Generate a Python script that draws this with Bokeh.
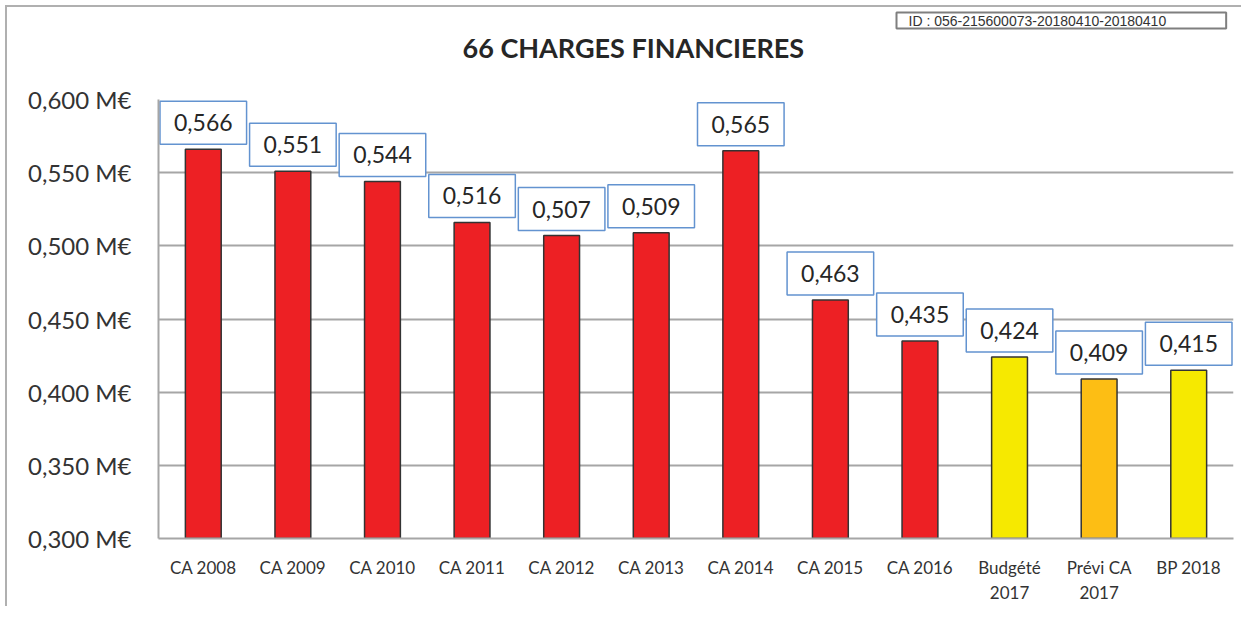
from bokeh.plotting import figure
from bokeh.models import CustomJSTickFormatter, FixedTicker, Title, ColumnDataSource, Range1d
from bokeh.core.properties import value
from bokeh.embed import file_html
from bokeh.resources import INLINE

categories = ["CA 2008", "CA 2009", "CA 2010", "CA 2011", "CA 2012", "CA 2013",
              "CA 2014", "CA 2015", "CA 2016", "Budgété\n2017", "Prévi CA\n2017", "BP 2018"]
values = [0.566, 0.551, 0.544, 0.516, 0.507, 0.509, 0.565, 0.463, 0.435, 0.424, 0.409, 0.415]
colors = ["#ed2024"] * 9 + ["#f6e900", "#fdbe14", "#f6e900"]
y_ticks = [0.30, 0.35, 0.40, 0.45, 0.50, 0.55, 0.60]
title_text = "66 CHARGES FINANCIERES"
id_text = "ID : 056-215600073-20180410-20180410"

labels = [f"{v:.3f}".replace(".", ",") for v in values]
src = ColumnDataSource(dict(cat=categories, val=values, color=colors, label=labels))

p = figure(x_range=categories, y_range=Range1d(0.3, 0.6), width=1236, height=601,
           output_backend="svg", toolbar_location=None,
           min_border_left=151, min_border_top=92, min_border_right=10, min_border_bottom=70)
p.styles = {"margin": "5px 0 0 5px",
            "border-left": "2px solid #b0b0b0", "border-top": "2px solid #b0b0b0"}
p.outline_line_color = None

p.vbar(x="cat", top="val", bottom=0, width=0.4, fill_color="color",
       line_color="#333333", line_width=1.5, source=src)

p.text(x="cat", y="val", text="label", source=src, anchor="bottom_center", y_offset=-5,
       padding=dict(left=14, right=14, top=13, bottom=13), background_fill_color="white",
       border_line_color="#6393d0", border_line_width=1.5, text_font=value("Lato"),
       text_font_size="23px", text_color="#262626", text_align="center",
       text_baseline="bottom")

p.yaxis.ticker = FixedTicker(ticks=y_ticks)
p.yaxis.formatter = CustomJSTickFormatter(code="return tick.toFixed(3).replace('.', ',') + ' M€';")
p.yaxis.major_tick_line_color = None
p.yaxis.minor_tick_line_color = None
p.yaxis.axis_line_color = "#a6a6a6"
p.yaxis.axis_line_width = 2
p.yaxis.major_label_standoff = 21
p.yaxis.major_label_text_font = "Lato"
p.yaxis.major_label_text_font_size = "24px"
p.yaxis.major_label_text_color = "#333333"

p.xaxis.major_tick_line_color = None
p.xaxis.axis_line_color = "#a6a6a6"
p.xaxis.axis_line_width = 2
p.xaxis.major_label_standoff = 12
p.xaxis.major_label_text_font = "Lato"
p.xaxis.major_label_text_font_size = "17px"
p.xaxis.major_label_text_color = "#333333"

p.xgrid.grid_line_color = None
p.ygrid.grid_line_color = "#a6a6a6"
p.ygrid.grid_line_width = 2

# outermost title slot: the ID stamp box at the top right
p.title.text = id_text
p.title.align = "left"
p.title.offset = 738
p.title.standoff = 0
p.title.text_font = "Liberation Sans"
p.title.text_font_size = "14px"
p.title.text_font_style = "normal"
p.title.text_color = "#333333"
p.title.background_fill_color = "white"
p.title.border_line_color = "#7f7f7f"
p.title.border_line_width = 2
p.title.padding = dict(left=12, right=60, top=0, bottom=0)

# chart title, nearest the frame
main_title = Title(text=title_text + "\n ", align="left", offset=304, standoff=0,
                   text_line_height=1.09, text_font="Lato", text_font_size="27px",
                   text_font_style="bold", text_color="#262626")
p.add_layout(main_title, "above")

open("out.html", "w").write(file_html(p, INLINE))
